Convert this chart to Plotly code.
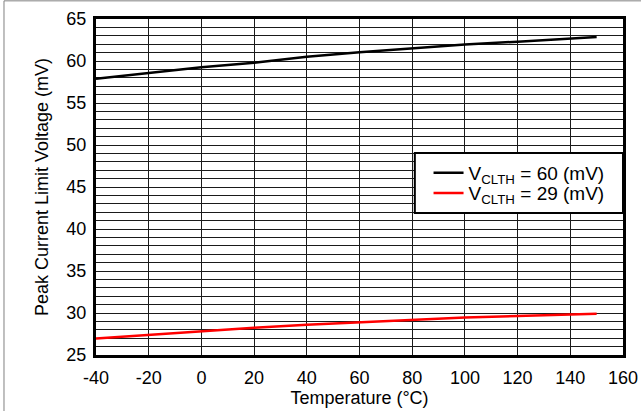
import plotly.graph_objects as go

# Temperature sweep points (°C)
temperature = [-40, -20, 0, 20, 40, 60, 80, 100, 120, 140, 150]

# Peak current limit voltage (mV) for the two threshold settings
vclth_60 = [57.9, 58.6, 59.25, 59.8, 60.5, 61.05, 61.5, 61.95, 62.3, 62.65, 62.85]
vclth_29 = [26.95, 27.4, 27.8, 28.25, 28.6, 28.9, 29.2, 29.45, 29.65, 29.8, 29.9]

series_names = ["V<sub>CLTH</sub> = 60 (mV)", "V<sub>CLTH</sub> = 29 (mV)"]
series_colors = ["#000000", "#ff0000"]
series_legends = ["legend", "legend2"]

x_ticks = [-40, -20, 0, 20, 40, 60, 80, 100, 120, 140, 160]
x_tick_text = ["-40", "-20", "0", "20", "40", "60", "80", "100", "120", "140", "160"]
y_ticks = [25, 30, 35, 40, 45, 50, 55, 60, 65]

font_family = "Liberation Sans, Arial, sans-serif"

fig = go.Figure()
for name, ys, color, leg in zip(series_names, [vclth_60, vclth_29],
                                series_colors, series_legends):
    fig.add_trace(go.Scatter(
        x=temperature, y=ys, mode="lines", name=name, legend=leg,
        line=dict(color=color, width=2.5),
    ))

axis_common = dict(
    showline=True, linecolor="black", linewidth=3, mirror=True,
    showgrid=True, gridcolor="#1a1a1a", gridwidth=1,
    ticks="", zeroline=False, automargin=False,
    tickfont=dict(family=font_family, size=18, color="black"),
    title_font=dict(family=font_family, size=18, color="black"),
)

fig.update_xaxes(
    range=[-40, 160], tickvals=x_ticks, ticktext=x_tick_text,
    ticklabelstandoff=4,
    title_text="Temperature (°C)", title_standoff=1,
    **axis_common,
)
fig.update_yaxes(
    range=[25, 65], tickvals=y_ticks,
    ticklabelstandoff=3,
    title_text="Peak Current Limit Voltage (mV)", title_standoff=14,
    minor=dict(dtick=1, showgrid=True, gridcolor="#1a1a1a", gridwidth=1),
    **axis_common,
)

# legend frame drawn as a box; each entry is its own legend placed inside it
legend_box = dict(
    type="rect", xref="paper", yref="paper", layer="above",
    x0=0.605, x1=1.0, y0=0.4226, y1=0.601,
    fillcolor="white", line=dict(color="black", width=2),
)
legend_style = dict(
    x=0.631, xanchor="left", yanchor="middle",
    bgcolor="rgba(0,0,0,0)", borderwidth=0,
    font=dict(family=font_family, size=19, color="black"),
)

fig.update_layout(
    width=641, height=411,
    margin=dict(l=96, r=18, t=19, b=56),
    paper_bgcolor="white", plot_bgcolor="white",
    font=dict(family=font_family, size=18, color="black"),
    legend=dict(y=0.5417, **legend_style),
    legend2=dict(y=0.482, **legend_style),
    showlegend=True,
    shapes=[
        legend_box,
        # thin frame along the top and left of the figure
        dict(type="line", xref="paper", yref="paper",
             x0=-0.1746, x1=1.04, y0=1.054, y1=1.054,
             line=dict(color="#808080", width=1)),
        dict(type="line", xref="paper", yref="paper",
             x0=-0.1746, x1=-0.1746, y0=1.054, y1=-0.17,
             line=dict(color="#808080", width=1)),
    ],
)

fig.write_html("out.html")
